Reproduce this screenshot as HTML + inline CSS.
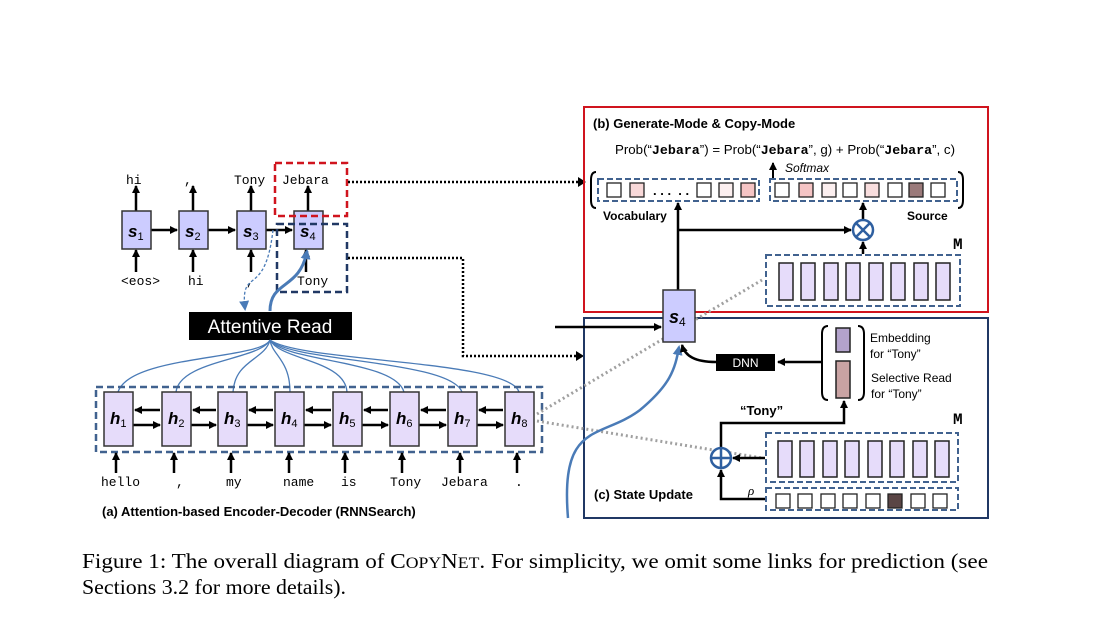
<!DOCTYPE html>
<html><head><meta charset="utf-8"><style>
body{margin:0;background:#fff}
svg{display:block}
.m{font-family:"Liberation Mono",monospace}
.s{font-family:"Liberation Sans",sans-serif}
</style></head><body>
<svg width="1102" height="618" viewBox="0 0 1102 618" xmlns="http://www.w3.org/2000/svg">
<defs>
<marker id="a" markerWidth="8" markerHeight="8" refX="7" refY="4" orient="auto" markerUnits="userSpaceOnUse"><path d="M0,0 L8,4 L0,8z" fill="#000"/></marker>
<marker id="b" markerWidth="10" markerHeight="10" refX="8" refY="5" orient="auto" markerUnits="userSpaceOnUse"><path d="M0,0 L10,5 L0,10z" fill="#4a7bb7"/></marker>
</defs>
<g stroke="#000" stroke-width="2.5" fill="none" marker-end="url(#a)">
<line x1="136" y1="211" x2="136" y2="186"/><line x1="193" y1="211" x2="193" y2="186"/><line x1="251" y1="211" x2="251" y2="186"/><line x1="308" y1="211" x2="308" y2="186"/>
<line x1="136" y1="272" x2="136" y2="250"/><line x1="193" y1="272" x2="193" y2="250"/><line x1="251" y1="272" x2="251" y2="250"/><line x1="306" y1="272" x2="306" y2="250"/>
<line x1="151" y1="230" x2="177" y2="230"/><line x1="208" y1="230" x2="235" y2="230"/><line x1="266" y1="230" x2="292" y2="230"/>
</g>
<g fill="#ccccff" stroke="#333" stroke-width="1.5">
<rect x="122" y="211" width="29" height="38"/><rect x="179" y="211" width="29" height="38"/><rect x="237" y="211" width="29" height="38"/><rect x="294" y="211" width="29" height="38"/>
</g>
<g class="s" font-weight="bold" font-style="italic" font-size="17" fill="#000">
<text x="128" y="237">s<tspan font-size="11" font-style="normal" font-weight="normal" dy="3">1</tspan></text>
<text x="185" y="237">s<tspan font-size="11" font-style="normal" font-weight="normal" dy="3">2</tspan></text>
<text x="243" y="237">s<tspan font-size="11" font-style="normal" font-weight="normal" dy="3">3</tspan></text>
<text x="300" y="237">s<tspan font-size="11" font-style="normal" font-weight="normal" dy="3">4</tspan></text>
</g>
<g class="m" font-size="13" fill="#000">
<text x="126" y="184">hi</text><text x="184" y="184">,</text><text x="234" y="184">Tony</text><text x="282" y="184">Jebara</text>
<text x="121" y="285">&lt;eos&gt;</text><text x="188" y="285">hi</text><text x="246" y="285">,</text><text x="297" y="285">Tony</text>
</g>
<rect x="275" y="163" width="72" height="53" fill="none" stroke="#d0141e" stroke-width="2.5" stroke-dasharray="7,4"/>
<rect x="277" y="224" width="70" height="68" fill="none" stroke="#203864" stroke-width="2.5" stroke-dasharray="7,4"/>
<g stroke="#000" stroke-width="2.5" stroke-dasharray="2,2" fill="none">
<line x1="348" y1="182" x2="580" y2="182"/>
<polyline points="348,258 463,258 463,356 578,356"/>
</g>
<path d="M578,177 L586,182 L578,187z"/><path d="M576,351 L584,356 L576,361z"/>
<path d="M270,311 C270,280 300,290 307,251" stroke="#4a7bb7" stroke-width="3" fill="none" marker-end="url(#b)"/>
<path d="M273,230 C265,300 240,265 245,309" stroke="#4a7bb7" stroke-width="1.3" stroke-dasharray="3,2" fill="none" marker-end="url(#b)"/>
<rect x="189" y="312" width="163" height="28" fill="#000"/>
<text x="270" y="333" text-anchor="middle" class="s" font-size="19" fill="#fff" font-family="DejaVu Sans,sans-serif">Attentive Read</text>
<g stroke="#4a7bb7" stroke-width="1.3" fill="none">
<path d="M270,340 C260,360 130,355 118,392"/><path d="M270,340 C260,360 180,360 176,392"/>
<path d="M270,340 C265,360 235,360 233,392"/><path d="M270,340 C272,355 290,360 290,392"/>
<path d="M270,340 C280,360 345,360 347,392"/><path d="M270,340 C285,362 395,360 404,392"/>
<path d="M270,340 C290,362 450,360 462,392"/><path d="M270,340 C300,362 510,360 519,392"/>
</g>
<rect x="96" y="387" width="446" height="65" fill="none" stroke="#41628f" stroke-width="2.5" stroke-dasharray="7,4"/>
<g stroke="#000" stroke-width="2.5" fill="none" marker-end="url(#a)">
<line x1="133" y1="425" x2="160" y2="425"/><line x1="191" y1="425" x2="216" y2="425"/><line x1="247" y1="425" x2="273" y2="425"/><line x1="304" y1="425" x2="331" y2="425"/><line x1="362" y1="425" x2="388" y2="425"/><line x1="419" y1="425" x2="446" y2="425"/><line x1="477" y1="425" x2="503" y2="425"/>
<line x1="160" y1="410" x2="135" y2="410"/><line x1="216" y1="410" x2="193" y2="410"/><line x1="273" y1="410" x2="249" y2="410"/><line x1="331" y1="410" x2="306" y2="410"/><line x1="388" y1="410" x2="364" y2="410"/><line x1="446" y1="410" x2="421" y2="410"/><line x1="503" y1="410" x2="479" y2="410"/>
<line x1="116" y1="473" x2="116" y2="453"/><line x1="174" y1="473" x2="174" y2="453"/><line x1="231" y1="473" x2="231" y2="453"/><line x1="289" y1="473" x2="289" y2="453"/><line x1="345" y1="473" x2="345" y2="453"/><line x1="402" y1="473" x2="402" y2="453"/><line x1="460" y1="473" x2="460" y2="453"/><line x1="517" y1="473" x2="517" y2="453"/>
</g>
<g fill="#e6dcfa" stroke="#333" stroke-width="1.5">
<rect x="104" y="392" width="29" height="54"/><rect x="162" y="392" width="29" height="54"/><rect x="218" y="392" width="29" height="54"/><rect x="275" y="392" width="29" height="54"/><rect x="333" y="392" width="29" height="54"/><rect x="390" y="392" width="29" height="54"/><rect x="448" y="392" width="29" height="54"/><rect x="505" y="392" width="29" height="54"/>
</g>
<g class="s" font-weight="bold" font-style="italic" font-size="17" fill="#000">
<text x="110" y="424">h<tspan font-size="11" font-style="normal" font-weight="normal" dy="3">1</tspan></text>
<text x="168" y="424">h<tspan font-size="11" font-style="normal" font-weight="normal" dy="3">2</tspan></text>
<text x="224" y="424">h<tspan font-size="11" font-style="normal" font-weight="normal" dy="3">3</tspan></text>
<text x="281" y="424">h<tspan font-size="11" font-style="normal" font-weight="normal" dy="3">4</tspan></text>
<text x="339" y="424">h<tspan font-size="11" font-style="normal" font-weight="normal" dy="3">5</tspan></text>
<text x="396" y="424">h<tspan font-size="11" font-style="normal" font-weight="normal" dy="3">6</tspan></text>
<text x="454" y="424">h<tspan font-size="11" font-style="normal" font-weight="normal" dy="3">7</tspan></text>
<text x="511" y="424">h<tspan font-size="11" font-style="normal" font-weight="normal" dy="3">8</tspan></text>
</g>
<g class="m" font-size="13" fill="#000">
<text x="101" y="486">hello</text><text x="176" y="486">,</text><text x="226" y="486">my</text><text x="283" y="486">name</text><text x="341" y="486">is</text><text x="390" y="486">Tony</text><text x="441" y="486">Jebara</text><text x="515" y="486">.</text>
</g>
<text x="102" y="516" class="s" font-weight="bold" font-size="13">(a) Attention-based Encoder-Decoder (RNNSearch)</text>
<rect x="584" y="107" width="404" height="205" fill="none" stroke="#d0141e" stroke-width="2"/>
<text x="593" y="128" class="s" font-weight="bold" font-size="13">(b) Generate-Mode &amp; Copy-Mode</text>
<text x="615" y="154" class="s" font-size="13" textLength="340" lengthAdjust="spacingAndGlyphs">Prob(“<tspan class="m" font-weight="bold">Jebara</tspan>”) = Prob(“<tspan class="m" font-weight="bold">Jebara</tspan>”, g) + Prob(“<tspan class="m" font-weight="bold">Jebara</tspan>”, c)</text>
<line x1="773" y1="178" x2="773" y2="163" stroke="#000" stroke-width="2" marker-end="url(#a)"/>
<text x="785" y="172" class="s" font-style="italic" font-size="12">Softmax</text>
<path d="M596,172 Q591,172 591,180 L591,200 Q591,208 596,208" fill="none" stroke="#000" stroke-width="2"/>
<path d="M958,172 Q963,172 963,180 L963,200 Q963,208 958,208" fill="none" stroke="#000" stroke-width="2"/>
<rect x="598" y="179" width="161" height="22" fill="none" stroke="#41628f" stroke-width="2" stroke-dasharray="6,3"/>
<rect x="770" y="179" width="187" height="22" fill="none" stroke="#41628f" stroke-width="2" stroke-dasharray="6,3"/>
<g stroke="#222" stroke-width="1.3">
<rect x="607" y="183" width="14" height="14" fill="#fff"/><rect x="630" y="183" width="14" height="14" fill="#f8d8d8"/>
<rect x="697" y="183" width="14" height="14" fill="#fff"/><rect x="719" y="183" width="14" height="14" fill="#fcefef"/><rect x="741" y="183" width="14" height="14" fill="#f5c4c4"/>
<rect x="775" y="183" width="14" height="14" fill="#fff"/><rect x="799" y="183" width="14" height="14" fill="#f5c4c4"/><rect x="822" y="183" width="14" height="14" fill="#fcefef"/><rect x="843" y="183" width="14" height="14" fill="#fff"/><rect x="865" y="183" width="14" height="14" fill="#f9dede"/><rect x="888" y="183" width="14" height="14" fill="#fff"/><rect x="909" y="183" width="14" height="14" fill="#9b7a7a"/><rect x="931" y="183" width="14" height="14" fill="#fff"/>
</g>
<text x="653" y="195" font-size="13" font-weight="bold" class="s">. . .&#160;&#160;. .</text>
<text x="603" y="220" class="s" font-weight="bold" font-size="12">Vocabulary</text>
<text x="907" y="220" class="s" font-weight="bold" font-size="12">Source</text>
<g stroke="#000" stroke-width="2.5" fill="none">
<line x1="678" y1="290" x2="678" y2="203" marker-end="url(#a)"/>
<line x1="678" y1="230" x2="851" y2="230" marker-end="url(#a)"/>
<line x1="863" y1="254" x2="863" y2="242" marker-end="url(#a)"/>
<line x1="863" y1="219" x2="863" y2="203" marker-end="url(#a)"/>
</g>
<circle cx="863" cy="230" r="10" fill="#fff" stroke="#2e5fa0" stroke-width="2.5"/>
<path d="M856,223 L870,237 M870,223 L856,237" stroke="#2e5fa0" stroke-width="2.5"/>
<text x="953" y="249" class="m" font-weight="bold" font-size="16">M</text>
<rect x="766" y="255" width="194" height="51" fill="none" stroke="#41628f" stroke-width="2" stroke-dasharray="6,3"/>
<g fill="#e6dcfa" stroke="#222" stroke-width="1.5">
<rect x="779" y="263" width="14" height="37"/><rect x="801" y="263" width="14" height="37"/><rect x="824" y="263" width="14" height="37"/><rect x="846" y="263" width="14" height="37"/><rect x="869" y="263" width="14" height="37"/><rect x="891" y="263" width="14" height="37"/><rect x="914" y="263" width="14" height="37"/><rect x="936" y="263" width="14" height="37"/>
</g>
<rect x="584" y="318" width="404" height="200" fill="none" stroke="#203864" stroke-width="2"/>
<g stroke="#a0a0a0" stroke-width="3" stroke-dasharray="2,3" fill="none">
<line x1="537" y1="414" x2="762" y2="280"/><line x1="537" y1="421" x2="762" y2="458"/>
</g>
<line x1="555" y1="327" x2="661" y2="327" stroke="#000" stroke-width="2.5" marker-end="url(#a)"/>
<path d="M568,518 C560,420 600,440 640,410 C670,385 675,370 679,347" stroke="#4a7bb7" stroke-width="2.5" fill="none" marker-end="url(#b)"/>
<rect x="663" y="290" width="32" height="52" fill="#ccccff" stroke="#333" stroke-width="1.5"/>
<text x="669" y="323" class="s" font-weight="bold" font-style="italic" font-size="18">s<tspan font-size="12" font-style="normal" font-weight="normal" dy="3">4</tspan></text>
<path d="M716,362 C695,362 685,356 682,345" stroke="#000" stroke-width="2.5" fill="none" marker-end="url(#a)"/>
<rect x="716" y="354" width="59" height="17" fill="#000"/>
<text x="745.5" y="367" text-anchor="middle" fill="#fff" class="s" font-size="12">DNN</text>
<line x1="822" y1="362" x2="778" y2="362" stroke="#000" stroke-width="2.5" marker-end="url(#a)"/>
<path d="M828,326 Q822,326 822,334 L822,392 Q822,400 828,400" fill="none" stroke="#000" stroke-width="2"/>
<path d="M858,326 Q864,326 864,334 L864,392 Q864,400 858,400" fill="none" stroke="#000" stroke-width="2"/>
<rect x="836" y="328" width="14" height="24" fill="#b3a3cc" stroke="#222" stroke-width="1.5"/>
<rect x="836" y="361" width="14" height="37" fill="#c9a3a3" stroke="#222" stroke-width="1.5"/>
<g class="s" font-size="12"><text x="870" y="342">Embedding</text><text x="870" y="358">for “Tony”</text><text x="871" y="382">Selective Read</text><text x="871" y="398">for “Tony”</text></g>
<text x="740" y="415" class="s" font-weight="bold" font-size="13">“Tony”</text>
<polyline points="721,448 721,423 844,423 844,401" stroke="#000" stroke-width="2.5" fill="none" marker-end="url(#a)"/>
<polyline points="766,499 721,499 721,470" stroke="#000" stroke-width="2.5" fill="none" marker-end="url(#a)"/>
<line x1="765" y1="458" x2="733" y2="458" stroke="#000" stroke-width="2.5" marker-end="url(#a)"/>
<circle cx="721" cy="458" r="10" fill="#fff" stroke="#2e5fa0" stroke-width="2.5"/>
<path d="M711,458 H731 M721,448 V468" stroke="#2e5fa0" stroke-width="2.5"/>
<text x="953" y="424" class="m" font-weight="bold" font-size="16">M</text>
<rect x="766" y="433" width="192" height="49" fill="none" stroke="#41628f" stroke-width="2" stroke-dasharray="6,3"/>
<g fill="#e6dcfa" stroke="#222" stroke-width="1.5">
<rect x="778" y="441" width="14" height="36"/><rect x="800" y="441" width="14" height="36"/><rect x="823" y="441" width="14" height="36"/><rect x="845" y="441" width="14" height="36"/><rect x="868" y="441" width="14" height="36"/><rect x="890" y="441" width="14" height="36"/><rect x="913" y="441" width="14" height="36"/><rect x="935" y="441" width="14" height="36"/>
</g>
<rect x="766" y="488" width="192" height="22" fill="none" stroke="#41628f" stroke-width="2" stroke-dasharray="6,3"/>
<g stroke="#222" stroke-width="1.3" fill="#fff">
<rect x="776" y="494" width="14" height="14"/><rect x="798" y="494" width="14" height="14"/><rect x="821" y="494" width="14" height="14"/><rect x="843" y="494" width="14" height="14"/><rect x="866" y="494" width="14" height="14"/><rect x="888" y="494" width="14" height="14" fill="#5a4545"/><rect x="911" y="494" width="14" height="14"/><rect x="933" y="494" width="14" height="14"/>
</g>
<text x="748" y="495" font-family="Liberation Serif,serif" font-style="italic" font-size="13">ρ</text>
<text x="594" y="499" class="s" font-weight="bold" font-size="13">(c) State Update</text>
<g font-family="Liberation Serif,serif" font-size="21" fill="#000">
<text x="82" y="568" textLength="906" lengthAdjust="spacingAndGlyphs">Figure 1: The overall diagram of C<tspan font-size="16">OPY</tspan>N<tspan font-size="16">ET</tspan>. For simplicity, we omit some links for prediction (see</text>
<text x="82" y="594" textLength="264" lengthAdjust="spacingAndGlyphs">Sections 3.2 for more details).</text>
</g>
</svg>
</body></html>
